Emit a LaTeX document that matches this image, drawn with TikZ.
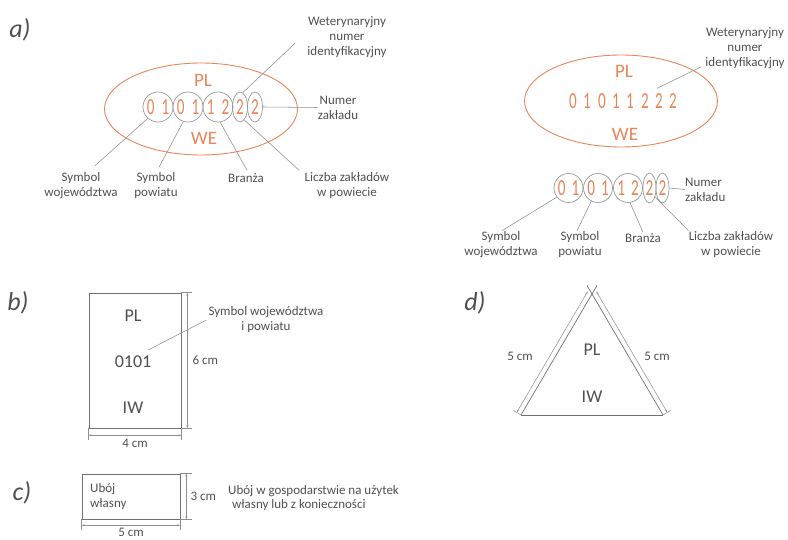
\documentclass[tikz,border=0pt]{standalone}
\usepackage{fontspec}
\setmainfont{Carlito}
\newfontfamily\digitfont[FakeStretch=0.66]{Carlito}
\usepackage{tikz}
\usetikzlibrary{shapes.geometric,arrows.meta,positioning,calc}
\definecolor{stamporange}{HTML}{E8865A}
\definecolor{inkgray}{HTML}{505050}
\definecolor{linegray}{HTML}{8E8E8E}
\definecolor{ringgray}{HTML}{9A9A9A}

\begin{document}
\begin{tikzpicture}[x=1pt,y=-1pt,
  stamp/.style={ellipse,draw=stamporange,line width=0.9pt,minimum width=193pt,minimum height=92pt,inner sep=0pt},
  stamptext/.style={font=\fontsize{19}{19}\selectfont,text=stamporange,inner sep=0pt},
  digitring/.style={circle,draw=ringgray,line width=0.7pt,minimum size=30pt,inner sep=0pt,
    font=\digitfont\fontsize{23}{23}\selectfont,text=stamporange},
  digitoval/.style={ellipse,draw=ringgray,line width=0.7pt,minimum width=15pt,minimum height=30pt,inner sep=0pt,
    font=\digitfont\fontsize{23}{23}\selectfont,text=stamporange},
  stampdigit/.style={font=\digitfont\fontsize{23}{23}\selectfont,text=stamporange,inner sep=0pt},
  notetext/.style={font=\fontsize{13}{15}\selectfont,text=inkgray,align=center,inner sep=0pt},
  badgetext/.style={font=\fontsize{18}{18}\selectfont,text=inkgray,inner sep=0pt},
  parttag/.style={font=\itshape\fontsize{26}{26}\selectfont,text=inkgray,inner sep=0pt},
  leader/.style={draw=linegray,line width=0.55pt},
  badge/.style={draw=linegray!80!black,line width=0.7pt,inner sep=0pt},
  dimline/.style={draw=linegray,line width=0.5pt},
  dimarrow/.style={dimline,{Stealth[length=3pt,width=2pt]}-{Stealth[length=3pt,width=2pt]}},
]
  \useasboundingbox (0,0) rectangle (788,540);

  \node[parttag] (pa) at (20,30) {a)};
  \node[parttag] (pb) at (18,303) {b)};
  \node[parttag] (pc) at (22,493) {c)};
  \node[parttag] (pd) at (475,303) {d)};

  \node[stamp] (ovalL) at (201,109) {};
  \node[stamptext] (plL) at (203,80) {PL};
  \node[stamptext] (weL) at (204,138) {WE};
  \node[digitring] (c1) at (158,107) {0\hspace{7pt}1};
  \node[digitring] (c2) at (188,107) {0\hspace{7pt}1};
  \node[digitring] (c3) at (218,107) {1\hspace{7pt}2};
  \node[digitoval] (c4) at (240,107) {2};
  \node[digitoval] (c5) at (255,107) {2};

  \node[notetext] (wetL) at (347,37.5) {Weterynaryjny\\numer\\identyfikacyjny};
  \node[notetext] (numL) at (338,107.5) {Numer\\zakładu};
  \node[notetext] (wojL) at (81,185.5) {Symbol\\województwa};
  \node[notetext] (powL) at (156,185.5) {Symbol\\powiatu};
  \node[notetext] (brL) at (246,178) {Branża};
  \node[notetext] (liczL) at (347,185.5) {Liczba zakładów\\w powiecie};

  \draw[leader] ([shift={(-12pt,-5.5pt)}]wetL.west) -- (c4.79);
  \draw[leader] (c5.east) -- (numL.west);
  \draw[leader] ([shift={(14pt,6.5pt)}]wojL.north) -- (c1.228);
  \draw[leader] ([shift={(3pt,5pt)}]powL.north) -- (c2.252);
  \draw[leader] ([shift={(1pt,3pt)}]brL.north) -- (c3.278);
  \draw[leader] ([shift={(-48pt,2pt)}]liczL.north) -- (c4.288);

  \node[stamp] (ovalR) at (621,101) {};
  \node[stamptext] (plR) at (624,71) {PL};
  \node[stamptext] (weR) at (625,134) {WE};
  \node[stampdigit] (r1) at (573,101) {0};
  \node[stampdigit] (r2) at (587,101) {1};
  \node[stampdigit] (r3) at (602,101) {0};
  \node[stampdigit] (r4) at (616,101) {1};
  \node[stampdigit] (r5) at (630,101) {1};
  \node[stampdigit] (r6) at (645,101) {2};
  \node[stampdigit] (r7) at (659,101) {2};
  \node[stampdigit] (r8) at (673,101) {2};
  \node[notetext] (wetR) at (745,48) {Weterynaryjny\\numer\\identyfikacyjny};
  \draw[leader] ([shift={(-4pt,2pt)}]wetR.south west) -- ([shift={(-2pt,5pt)}]r7.north);

  \node[digitring,minimum size=29pt] (d1) at (568.5,188) {0\hspace{6pt}1};
  \node[digitring,minimum size=29pt] (d2) at (598,188) {0\hspace{6pt}1};
  \node[digitring,minimum size=29pt] (d3) at (628,188) {1\hspace{6pt}2};
  \node[digitoval,minimum width=13pt] (d4) at (649.5,188) {2};
  \node[digitoval,minimum width=13pt] (d5) at (662.5,188) {2};

  \node[notetext,anchor=west,align=left] (numR) at (685,189.5) {Numer\\zakładu};
  \node[notetext] (wojR) at (501,245) {Symbol\\województwa};
  \node[notetext] (powR) at (580,245) {Symbol\\powiatu};
  \node[notetext] (brR) at (643,238) {Branża};
  \node[notetext] (liczR) at (731,245) {Liczba zakładów\\w powiecie};

  \draw[leader] (d5.east) -- (numR.west);
  \draw[leader] ([shift={(1pt,1pt)}]wojR.north) -- (d1.218);
  \draw[leader] ([shift={(-3pt,1pt)}]powR.north) -- (d2.243);
  \draw[leader] ([shift={(0pt,1pt)}]brR.north) -- (d3.278);
  \draw[leader] ([shift={(0pt,1pt)}]liczR.north west) -- (d4.302);

  \node[badge,minimum width=92pt,minimum height=135pt] (boxB) at (135,360.5) {};
  \node[badgetext] (plB) at (133,316) {PL};
  \node[badgetext] (codeB) at (133,362) {0101};
  \node[badgetext] (iwB) at (133,408) {IW};
  \node[notetext] (symB) at (266,320) {Symbol województwa\\i powiatu};
  \draw[leader] ([xshift=-2pt]symB.west) -- ([shift={(-3pt,6pt)}]codeB.north east);
  \draw[dimline] (boxB.north east) -- ++(11,0);
  \draw[dimline] (boxB.south east) -- ++(11,0);
  \draw[dimarrow] ([xshift=6pt]boxB.north east) -- ([xshift=6pt]boxB.south east)
    node[midway,right=5pt,notetext] {6 cm};
  \draw[dimline] (boxB.south west) -- ++(0,12);
  \draw[dimline] (boxB.south east) -- ++(0,12);
  \draw[dimarrow] ([yshift=-7pt]boxB.south west) -- ([yshift=-7pt]boxB.south east)
    node[midway,below=4pt,notetext] {4 cm};

  \node[badge,minimum width=98pt,minimum height=45pt] (boxC) at (131,496.5) {};
  \node[notetext,anchor=west,align=left] (ownC) at (90,497) {Ubój\\własny};
  \draw[dimline] (boxC.north east) -- ++(12,0);
  \draw[dimline] (boxC.south east) -- ++(12,0);
  \draw[dimarrow] ([xshift=6pt]boxC.north east) -- ([xshift=6pt]boxC.south east)
    node[midway,right=4pt,notetext] {3 cm};
  \draw[dimline] (boxC.south west) -- ++(0,11);
  \draw[dimline] (boxC.south east) -- ++(0,11);
  \draw[dimarrow] ([yshift=-6pt]boxC.south west) -- ([yshift=-6pt]boxC.south east)
    node[midway,below=3pt,notetext] {5 cm};
  \node[notetext,anchor=west,align=left,font=\fontsize{13}{14}\selectfont] (useC) at (228,498.5)
    {Ubój w gospodarstwie na użytek\\\hspace*{4pt}własny lub z konieczności};

  \coordinate (tA) at (592,294);
  \coordinate (tB) at (521,415);
  \coordinate (tC) at (663,415);
  \draw[badge] (tB) -- (tC);
  \draw[badge] (tB) -- ($(tB)!1.07!(tA)$);
  \draw[badge] (tC) -- ($(tC)!1.07!(tA)$);
  \draw[dimline] (tB) -- ($(tB)!9pt!90:(tA)$);
  \draw[dimline] (tC) -- ($(tC)!9pt!-90:(tA)$);
  \draw[dimarrow] ($(tB)!5pt!90:(tA)$) -- ($(tA)!5pt!-90:(tB)$);
  \draw[dimarrow] ($(tA)!5pt!90:(tC)$) -- ($(tC)!5pt!-90:(tA)$);
  \node[notetext] (sideL) at (520,356) {5 cm};
  \node[notetext] (sideR) at (657,356) {5 cm};
  \node[badgetext] (plD) at (592,350) {PL};
  \node[badgetext] (iwD) at (592,397) {IW};
\end{tikzpicture}
\end{document}
